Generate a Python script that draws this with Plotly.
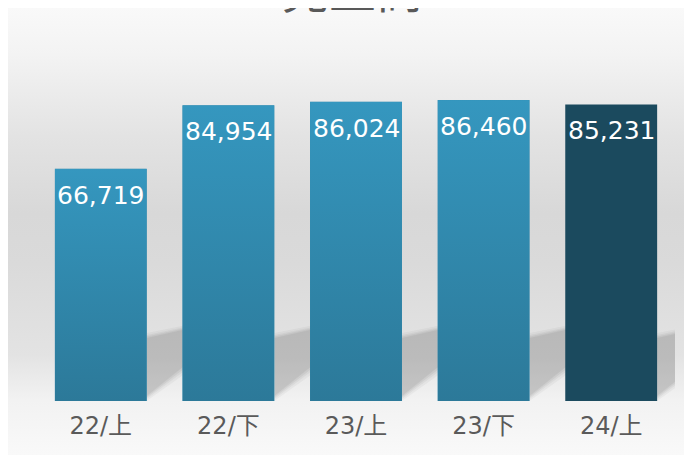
import base64
import plotly.graph_objects as go

# ---- data ----
title_text = "売上高"
categories = ["22/上", "22/下", "23/上", "23/下", "24/上"]
values = [66719, 84954, 86024, 86460, 85231]
bar_colors = ["#3189ad", "#3189ad", "#3189ad", "#3189ad", "#1b4a5e"]
gradient_bars = [True, True, True, True, False]

# figure sits at (8, 8) in the page (default body margin)
W, H = 684, 447
ML, MR, MT, MB = 29, 17, 45, 54
YMAX = 100000
BARW = 0.72
PAGE_H = 455
OFF = 8

def svg_uri(svg):
    return "data:image/svg+xml;base64," + base64.b64encode(svg.encode("utf-8")).decode("ascii")

# background gradient stops, expressed as fraction of page height
page_stops = [(0.0, "#f9f9f9"), (0.12, "#f3f3f3"), (0.30, "#e3e3e3"), (0.47, "#d8d8d8"),
              (0.58, "#dadada"), (0.78, "#e3e3e3"), (0.88, "#f2f2f2"), (1.0, "#f9f9f9")]
stops_xml = ""
for p, c in page_stops:
    o = min(1.0, max(0.0, (p * PAGE_H - OFF) / H))
    stops_xml += f"<stop offset='{o:.4f}' stop-color='{c}'/>"

bg_svg = (
    "<svg xmlns='http://www.w3.org/2000/svg' width='100' height='100' viewBox='0 0 100 100' preserveAspectRatio='none'>"
    "<defs><linearGradient id='g' x1='0' y1='0' x2='0' y2='1'>" + stops_xml +
    "</linearGradient></defs><rect width='100' height='100' fill='url(#g)'/></svg>"
)
bar_svg = (
    "<svg xmlns='http://www.w3.org/2000/svg' width='100' height='100' viewBox='0 0 100 100' preserveAspectRatio='none'>"
    "<defs><linearGradient id='b' x1='0' y1='0' x2='0' y2='1'>"
    "<stop offset='0' stop-color='#3597bf'/>"
    "<stop offset='1' stop-color='#2c7999'/>"
    "</linearGradient></defs><rect width='100' height='100' fill='url(#b)'/></svg>"
)

xs = list(range(len(categories)))
pw = W - ML - MR
ph = H - MT - MB

fig = go.Figure()
fig.add_trace(go.Bar(
    x=xs, y=values, width=BARW,
    marker=dict(color=bar_colors, line=dict(width=0)),
    hoverinfo="skip", showlegend=False,
))

images = [dict(
    source=svg_uri(bg_svg), xref="paper", yref="paper",
    x=-ML / pw, y=(H - MB) / ph, sizex=W / pw, sizey=H / ph,
    xanchor="left", yanchor="top", sizing="stretch", layer="below",
)]
for i, (v, g) in enumerate(zip(values, gradient_bars)):
    if g:
        images.append(dict(
            source=svg_uri(bar_svg), xref="x", yref="y",
            x=i - BARW / 2, y=v, sizex=BARW, sizey=v,
            xanchor="left", yanchor="top", sizing="stretch", layer="above",
        ))

# soft shadows behind bars (decorative)
shapes = []
core = [(0, 5), (0, 63), (40, 72), (40, 37)]
for i in xs:
    for grow, op in [(5, 0.035), (3, 0.045), (1.5, 0.05), (0, 0.055)]:
        pts = [(dx + (grow if dx > 0 else 0), dy + (grow if dy > 40 else -grow)) for dx, dy in core]
        path = "M " + " L ".join(f"{dx},{dy}" for dx, dy in pts) + " Z"
        shapes.append(dict(
            type="path", xref="x", yref="y",
            xsizemode="pixel", ysizemode="pixel",
            xanchor=i + BARW / 2, yanchor=0,
            path=path, fillcolor=f"rgba(0,0,0,{op})", line=dict(width=0),
            layer="below",
        ))

annotations = []
for i, v in enumerate(values):
    annotations.append(dict(
        x=i, y=v, xref="x", yref="y", text=f"{v:,}", showarrow=False,
        yanchor="top", yshift=-10,
        font=dict(family="DejaVu Sans, Noto Sans CJK JP", size=25, color="#ffffff"),
    ))
annotations.append(dict(
    x=0.495, y=1, xref="paper", yref="paper", text=title_text, showarrow=False,
    yanchor="bottom", yshift=29,
    font=dict(family="Noto Sans CJK JP", size=47, color="#595959"),
))

fig.update_layout(
    width=W, height=H,
    margin=dict(l=ML, r=MR, t=MT, b=MB, pad=0),
    paper_bgcolor="#ffffff", plot_bgcolor="rgba(0,0,0,0)",
    bargap=0.28,
    images=images, shapes=shapes, annotations=annotations,
    xaxis=dict(
        range=[-0.5, len(categories) - 0.5], tickmode="array", tickvals=xs, ticktext=categories,
        showgrid=False, zeroline=False, showline=False, ticks="", ticklabelstandoff=8,
        tickfont=dict(family="DejaVu Sans, Noto Sans CJK JP", size=24, color="#5a5a5a"),
        fixedrange=True,
    ),
    yaxis=dict(range=[0, YMAX], visible=False, showgrid=False, zeroline=False, fixedrange=True),
    showlegend=False,
)

fig.write_html("out.html", config={"displayModeBar": False})
